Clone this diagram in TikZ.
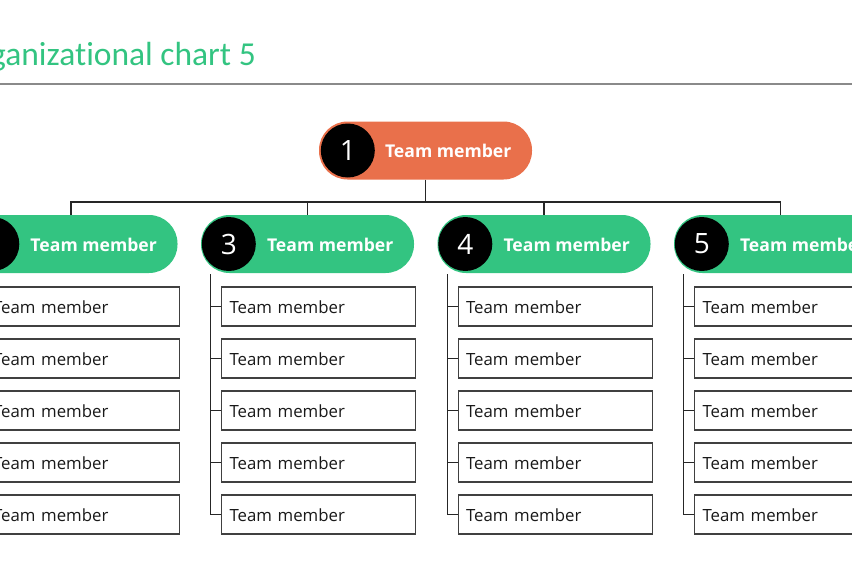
\documentclass[tikz,border=0pt]{standalone}
\usepackage{fontspec}
\setmainfont{Open Sans}
\newfontfamily\titlefont[Ligatures=NoCommon]{Carlito}
\usetikzlibrary{calc}
\definecolor{tgreen}{HTML}{33C481}
\definecolor{torange}{HTML}{E9704B}
\definecolor{tline}{HTML}{404040}
\definecolor{tgray}{HTML}{8A8A8A}
\begin{document}
\begin{tikzpicture}[x=1pt,y=-1pt,
  pill/.style={rounded corners=28.5pt, minimum width=213pt, minimum height=58pt, inner sep=0pt},
  num/.style={circle, fill=black, minimum size=54pt, inner sep=0pt, text=white, font=\fontsize{28}{28}\selectfont},
  ptext/.style={anchor=base west, inner sep=0pt, text=white, font=\bfseries\fontsize{17.6}{20}\selectfont},
  mbox/.style={draw=tline, line width=1.1pt, fill=white, text width=178pt, align=left, inner xsep=8pt, inner ysep=0pt, minimum height=39pt, text height=13pt, text depth=0pt, font=\fontsize{16.8}{20}\selectfont, text=black!90},
  conn/.style={draw=black!85, line width=1.1pt}]
\useasboundingbox (0,0) rectangle (852,576);
\clip (0,0) rectangle (852,576);
% title
\node[anchor=base east, inner sep=0pt, text=tgreen, font=\titlefont\fontsize{33.5}{33.5}\selectfont] (title) at (256,65) {Organizational chart 5};
\coordinate (rl) at (0,83.5);
\coordinate (rr) at (852,83.5);
\draw[tgray, line width=2pt] (rl) -- (rr);
% top member
\node[pill, fill=torange] (p1) at (425.5,150.5) {};
\node[num] (n1) at ($(p1.west)+(29,0)$) {1};
\node[ptext] (t1) at ($(p1.west)+(66,7)$) {Team member};
% second level
\foreach \i/\x in {2/71,3/307.5,4/544,5/780.5}{
  \node[pill, fill=tgreen] (p\i) at (\x,244) {};
  \node[num] (n\i) at ($(p\i.west)+(28,0)$) {\i};
  \node[ptext] (t\i) at ($(p\i.west)+(66,7.5)$) {Team member};
  \foreach \j in {1,...,5}{
    \node[mbox, anchor=west] (b\i\j) at ({\x-86.5},{254.5+52*\j}) {Team member};
  }
  \draw[conn] ($(p\i.south west)+(10,1)$) |- (b\i5.west);
  \foreach \j in {1,...,4}{
    \draw[conn] (b\i\j.west) -- ++(-10,0);
  }
}
% bus
\coordinate (bus) at (0,202);
\draw[conn] (p1.south) -- (p1.south |- bus);
\draw[conn] (p2.north) |- (p5.north |- bus) -- (p5.north);
\draw[conn] (p3.north) -- (p3.north |- bus);
\draw[conn] (p4.north) -- (p4.north |- bus);
\end{tikzpicture}
\end{document}
